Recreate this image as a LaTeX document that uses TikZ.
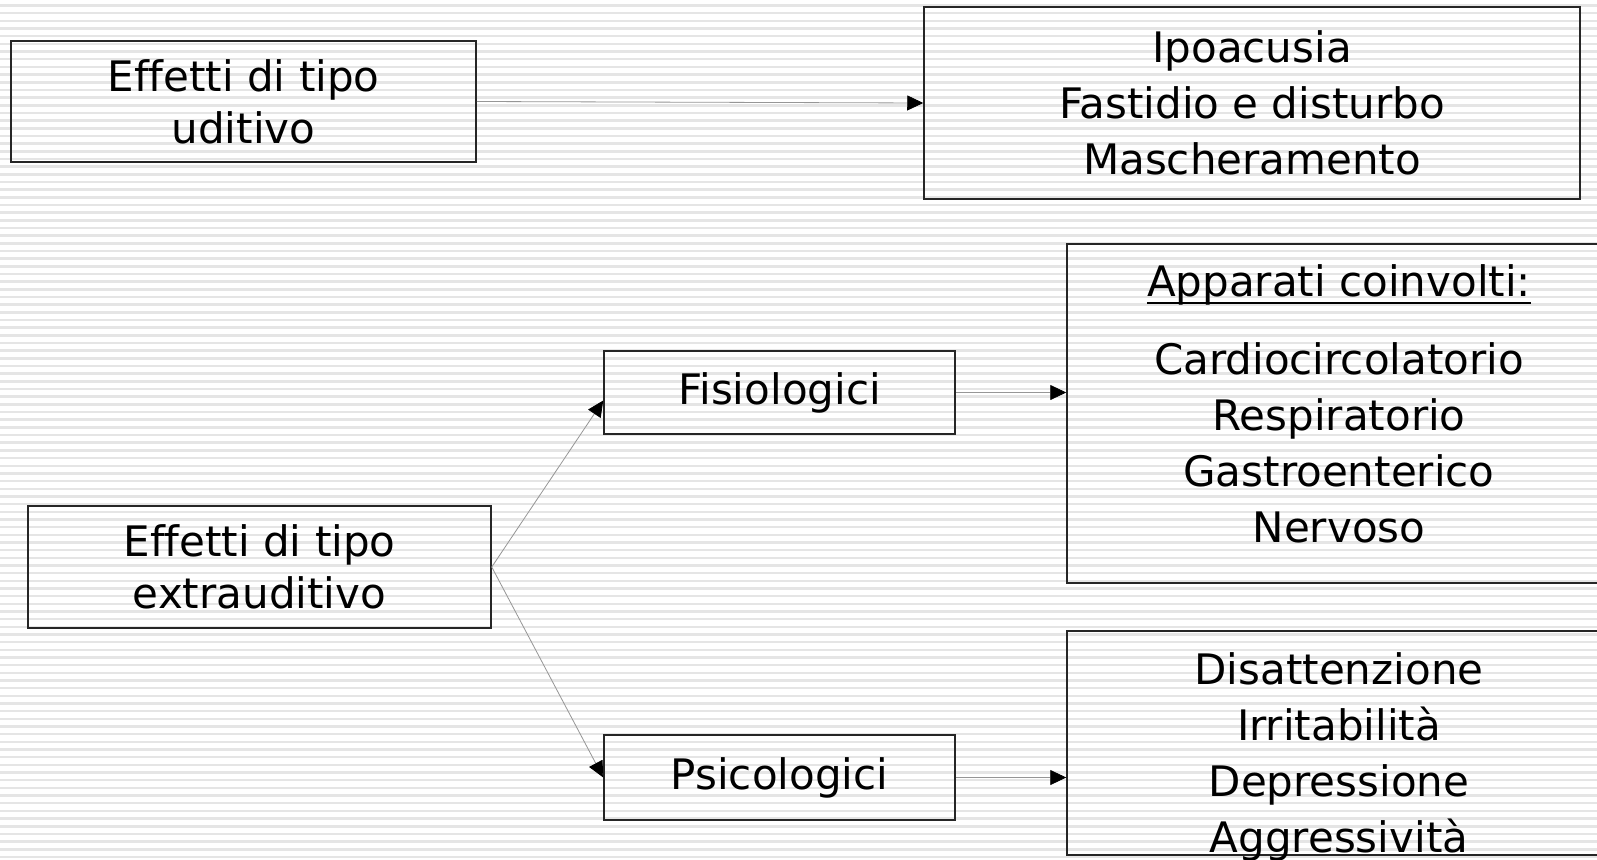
\documentclass[tikz,border=0pt]{standalone}
\usepackage{fontspec}
\setmainfont{DejaVu Sans}[Ligatures={NoCommon}]
\usetikzlibrary{arrows.meta}
\definecolor{stripe}{RGB}{229,229,229}
\definecolor{conncol}{RGB}{150,150,150}
\begin{document}
\begin{tikzpicture}[x=1pt,y=-1pt,
  box/.style={draw=black!85, line width=1.5pt, inner sep=0pt, align=center},
  big/.style={font=\fontsize{42}{52}\selectfont},
  list/.style={font=\fontsize{42}{56}\selectfont, align=center, inner sep=0pt},
  conn/.style={draw=conncol, line width=0.8pt, -{Triangle[length=16pt,width=15pt,color=black]}}]
\clip (0,0) rectangle (1597,859);
\useasboundingbox (0,0) rectangle (1597,859);
\fill[white] (0,0) rectangle (1597,859);
\foreach \i in {0,...,112}
  \fill[stripe] (0,{4.3+7.67*\i}) rectangle (1597,{4.3+7.67*\i+2.5});

% boxes
\node[box, big, minimum width=465pt, minimum height=121pt] (aud) at (243.5,101.5) {Effetti di tipo\\uditivo};
\node[box, list, minimum width=656pt, minimum height=192pt] (ipo) at (1252,103) {Ipoacusia\\Fastidio e disturbo\\Mascheramento};
\node[box, big, minimum width=463pt, minimum height=122pt] (ext) at (259.5,567) {Effetti di tipo\\extrauditivo};
\node[box, big, minimum width=351pt, minimum height=83pt] (fis) at (779.5,392.5) {Fisiologici};
\node[box, big, minimum width=351pt, minimum height=85pt] (psi) at (779.5,777.5) {Psicologici};
\node[box, minimum width=544pt, minimum height=339pt] (app) at (1339,413.5) {};
\node[box, minimum width=544pt, minimum height=224pt] (dis) at (1339,743) {};

% texts of the right boxes
\node[list, anchor=base] (ttl) at (1339,296) {Apparati coinvolti:};
\draw[line width=2.6pt] ([yshift=-7pt]ttl.base west) -- ([yshift=-7pt]ttl.base east);
\node[list] (applist) at (1339,443) {Cardiocircolatorio\\Respiratorio\\Gastroenterico\\Nervoso};
\node[list] (dislist) at (1339,756.5) {Disattenzione\\Irritabilità\\Depressione\\Aggressività};

% connectors
\draw[conn] (aud.east) -- (ipo.west);
\draw[conn] (ext.east) -- ([yshift=-8pt]fis.west);
\draw[conn] (ext.east) -- (psi.west);
\draw[conn] (fis.east) -- (fis.east -| app.west);
\draw[conn] (psi.east) -- (psi.east -| dis.west);
\end{tikzpicture}
\end{document}
